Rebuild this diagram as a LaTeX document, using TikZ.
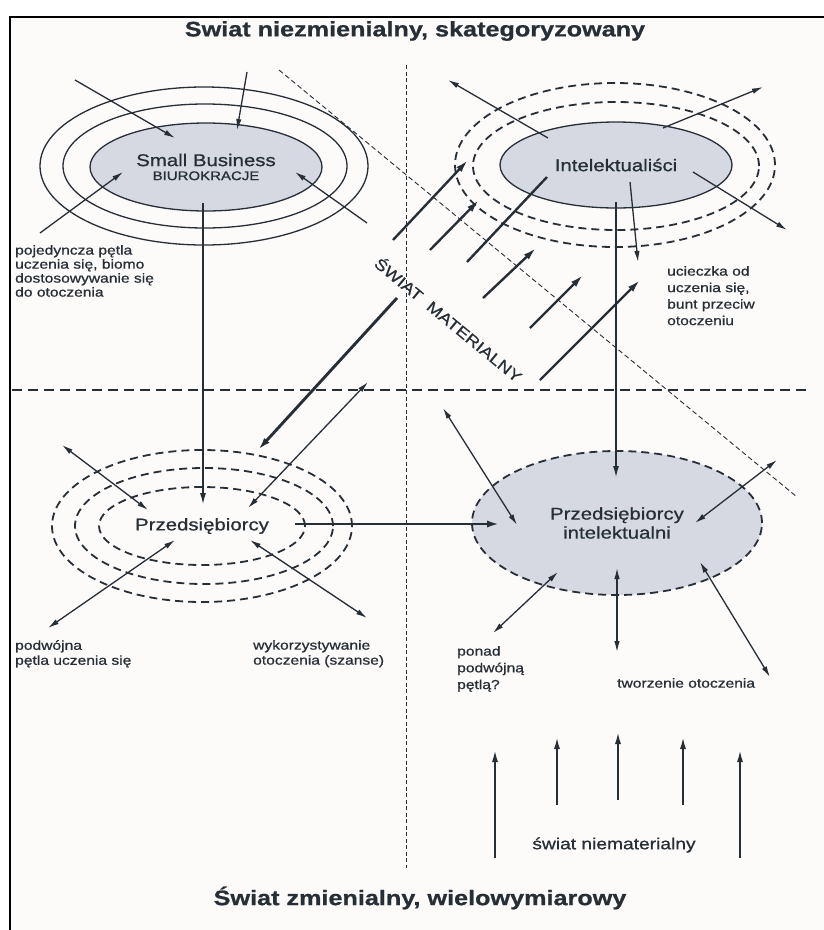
\documentclass[tikz,border=0pt]{standalone}
\usepackage{fontspec}
\setmainfont{Liberation Sans}[FakeStretch=1.2,FakeBold=0.8]
\usetikzlibrary{shapes.geometric,arrows.meta}
\definecolor{ink}{RGB}{38,46,54}
\definecolor{shade}{RGB}{214,216,226}
\definecolor{paper}{RGB}{253,250,250}
\newcommand{\nodefont}{\fontsize{17}{19}\selectfont}
\begin{document}
\begin{tikzpicture}[x=1pt,y=-1pt,
  ring/.style={ellipse, draw=ink, line width=1.3pt, inner sep=0pt, text=ink},
  dring/.style={ellipse, draw=ink, line width=1.8pt, dash pattern=on 8pt off 5pt, inner sep=0pt, text=ink},
  arr/.style={draw=ink, line width=1.3pt, -{Latex[length=11pt,width=5.5pt]}},
  darr/.style={draw=ink, line width=1.3pt, {Latex[length=11pt,width=5.5pt]}-{Latex[length=11pt,width=5.5pt]}},
  marr/.style={draw=ink, line width=2.4pt, -{Latex[length=13pt,width=7pt]}},
  mline/.style={draw=ink, line width=2.4pt},
  varr/.style={draw=ink, line width=1.8pt, -{Latex[length=12pt,width=6pt]}},
  lbl/.style={font=\fontsize{13}{14}\selectfont, align=left, inner sep=0pt, text=ink},
  ttl/.style={font=\fontsize{21}{24}\selectfont\bfseries, inner sep=0pt, text=ink},
  nodetxt/.style={font=\nodefont}
]
\useasboundingbox (0,0) rectangle (824,930);
\fill[white] (0,0) rectangle (824,930);
\fill[paper] (10,17) rectangle (824,930);
\draw[line width=2pt, black] (10,930) -- (10,17) -- (824,17);

% titles
\node[ttl] (ttop) at (415,31) {Swiat niezmienialny, skategoryzowany};
\node[ttl] (tbot) at (420,898) {Świat zmienialny, wielowymiarowy};

% dividing lines
\coordinate (vTop) at (406,65); \coordinate (vBot) at (406,868);
\coordinate (hL) at (12,390); \coordinate (hR) at (812,390);
\coordinate (dA) at (279,70); \coordinate (dB) at (797,497);
\draw[ink, line width=0.9pt, dash pattern=on 4pt off 2.5pt] (vTop) -- (vBot);
\draw[ink, line width=1.8pt, dash pattern=on 10pt off 6pt] (hL) -- (hR);
\draw[ink, line width=0.9pt, dash pattern=on 5pt off 3pt] (dA) -- (dB);

% Small Business
\node[ring, minimum width=328pt, minimum height=158pt] (sbo) at (204,166) {};
\node[ring, minimum width=284pt, minimum height=124pt] (sbm) at (205,166) {};
\node[ring, fill=shade, minimum width=232pt, minimum height=88pt, align=center] (sb) at (206,167)
  {{\nodefont Small Business}\\[2pt]{\fontsize{12.5}{14}\selectfont BIUROKRACJE}};

% Intelektualisci
\node[dring, minimum width=320pt, minimum height=164pt] (ino) at (615,165) {};
\node[dring, minimum width=286pt, minimum height=128pt] (inm) at (616,166) {};
\node[ring, fill=shade, minimum width=232pt, minimum height=86pt, nodetxt] (in) at (616,165) {Intelektualiści};

% Przedsiebiorcy
\node[dring, minimum width=300pt, minimum height=152pt] (po) at (202,526) {};
\node[dring, minimum width=258pt, minimum height=116pt] (pm) at (204,526) {};
\node[dring, minimum width=206pt, minimum height=78pt, nodetxt] (p) at (202,526) {Przedsiębiorcy};

% Przedsiebiorcy intelektualni
\node[dring, fill=shade, minimum width=290pt, minimum height=144pt, nodetxt, align=center] (pi) at (617,523)
  {Przedsiębiorcy\\intelektualni};

% labels
\node[lbl, anchor=north west] (l1) at (15,245) {pojedyncza pętla\\uczenia się, biomo\\dostosowywanie się\\do otoczenia};
\node[lbl, anchor=north west, font=\fontsize{13}{15}\selectfont] (l2) at (15,640) {podwójna\\pętla uczenia się};
\node[lbl, anchor=north west, font=\fontsize{13}{15}\selectfont] (l3) at (253,640) {wykorzystywanie\\otoczenia (szanse)};
\node[lbl, anchor=north west, font=\fontsize{13}{16.5}\selectfont] (l4) at (667,266) {ucieczka od\\uczenia się,\\bunt przeciw\\otoczeniu};
\node[lbl, anchor=north west, font=\fontsize{13}{16.7}\selectfont] (l5) at (457,646) {ponad\\podwójną\\pętlą?};
\node[lbl, anchor=west] (l6) at (617,683) {tworzenie otoczenia};
\node[lbl, font=\fontsize{16}{18}\selectfont] (l7) at (614,845) {świat niematerialny};
\node[lbl, font=\fontsize{15.5}{17}\selectfont, rotate=-39.5] (l8) at (449,319) {ŚWIAT\ \ MATERIALNY};

% Small Business inward arrows
\coordinate (sa1) at (75,80);   \coordinate (sa2) at (175,138);
\coordinate (sb1) at (247,72);  \coordinate (sb2) at (237,130);
\coordinate (sc1) at (40,233);  \coordinate (sc2) at (123,172);
\coordinate (sd1) at (367,223); \coordinate (sd2) at (295,172);
\draw[arr] (sa1) -- (sa2);
\draw[arr] (sb1) -- (sb2);
\draw[arr] (sc1) -- (sc2);
\draw[arr] (sd1) -- (sd2);

% Intelektualisci outward arrows
\coordinate (ia1) at (548,138); \coordinate (ia2) at (448,80);
\coordinate (ib1) at (663,128); \coordinate (ib2) at (763,87);
\coordinate (ic1) at (693,172); \coordinate (ic2) at (787,230);
\coordinate (id1) at (630,182); \coordinate (id2) at (638,262);
\draw[arr] (ia1) -- (ia2);
\draw[arr] (ib1) -- (ib2);
\draw[arr] (ic1) -- (ic2);
\draw[arr] (id1) -- (id2);

% vertical main arrows
\coordinate (sbBot) at (203,203); \coordinate (pTop) at (203,505);
\coordinate (inBot) at (616,202); \coordinate (piTop) at (616,478);
\draw[varr] (sbBot) -- (pTop);
\draw[varr] (inBot) -- (piTop);

% horizontal thick arrow
\coordinate (pR) at (295,524); \coordinate (piL) at (500,524);
\draw[marr, line width=2.8pt] (pR) -- (piL);

% material world arrows
\coordinate (ma1) at (393,240); \coordinate (ma2) at (468,160);
\coordinate (mb1) at (430,250); \coordinate (mb2) at (479,200);
\coordinate (mc1) at (467,262); \coordinate (mc2) at (547,177);
\coordinate (md1) at (397,298); \coordinate (md2) at (258,450);
\coordinate (me1) at (483,298); \coordinate (me2) at (536,248);
\coordinate (mf1) at (530,328); \coordinate (mf2) at (583,275);
\coordinate (mg1) at (540,380); \coordinate (mg2) at (640,280);
\draw[marr] (ma1) -- (ma2);
\draw[marr] (mb1) -- (mb2);
\draw[mline] (mc1) -- (mc2);
\draw[marr, line width=2.9pt] (md1) -- (md2);
\draw[marr] (me1) -- (me2);
\draw[marr] (mf1) -- (mf2);
\draw[marr] (mg1) -- (mg2);

% thin double arrow
\coordinate (tt1) at (248,508); \coordinate (tt2) at (368,382);
\draw[darr] (tt1) -- (tt2);

% Przedsiebiorcy double arrows
\coordinate (p11) at (148,510); \coordinate (p12) at (62,445);
\coordinate (p21) at (175,540); \coordinate (p22) at (48,628);
\coordinate (p31) at (250,540); \coordinate (p32) at (367,618);
\draw[darr] (p11) -- (p12);
\draw[darr] (p21) -- (p22);
\draw[darr] (p31) -- (p32);

% Przedsiebiorcy intelektualni double arrows
\coordinate (q11) at (443,408); \coordinate (q12) at (517,525);
\coordinate (q21) at (777,460); \coordinate (q22) at (695,523);
\coordinate (q31) at (558,572); \coordinate (q32) at (493,633);
\coordinate (q41) at (617,568); \coordinate (q42) at (617,652);
\coordinate (q51) at (700,562); \coordinate (q52) at (770,677);
\draw[darr] (q11) -- (q12);
\draw[darr] (q21) -- (q22);
\draw[darr] (q31) -- (q32);
\draw[darr] (q41) -- (q42);
\draw[darr] (q51) -- (q52);

% immaterial world arrows
\coordinate (u11) at (495,858); \coordinate (u12) at (495,750);
\coordinate (u21) at (557,805); \coordinate (u22) at (557,737);
\coordinate (u31) at (618,800); \coordinate (u32) at (618,732);
\coordinate (u41) at (683,805); \coordinate (u42) at (683,737);
\coordinate (u51) at (740,858); \coordinate (u52) at (740,750);
\draw[varr] (u11) -- (u12);
\draw[varr] (u21) -- (u22);
\draw[varr] (u31) -- (u32);
\draw[varr] (u41) -- (u42);
\draw[varr] (u51) -- (u52);
\end{tikzpicture}
\end{document}
